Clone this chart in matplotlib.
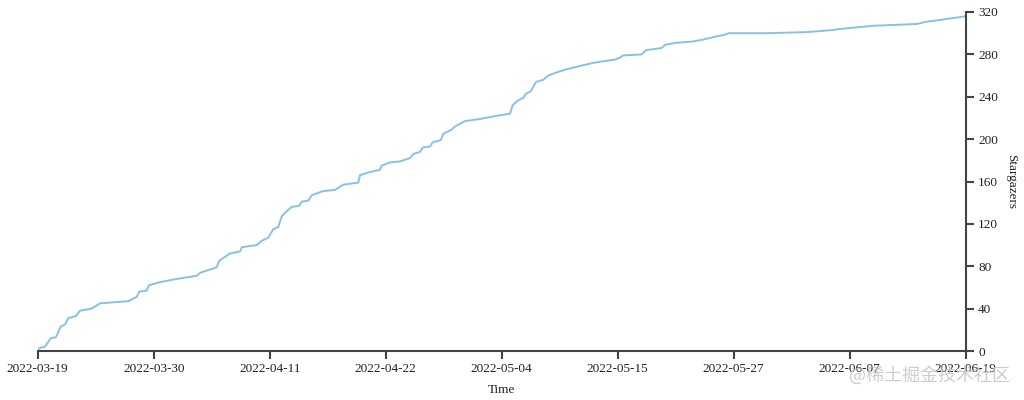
#!/usr/bin/env python
"""Cumulative stargazers over time."""

# Third party modules.
import numpy as np
import pandas as pd
import matplotlib
matplotlib.use("Agg")
import matplotlib.pyplot as plt
import matplotlib.dates as mdates

# Globals and constants variables.
startDate = "2022-03-19"
endDate = "2022-06-19"

# days after startDate
days = [0.00, 0.23, 0.72, 1.29, 1.81, 2.28, 2.71, 3.03, 3.80, 4.19,
        5.35, 6.18, 8.98, 9.81, 10.07, 10.81, 11.03, 12.12, 13.78, 15.76,
        16.16, 17.75, 17.97, 19.06, 20.06, 20.25, 21.71, 22.21, 22.86, 23.36,
        23.85, 24.19, 24.69, 25.18, 25.93, 26.17, 26.83, 27.16, 28.31, 29.47,
        30.30, 31.78, 31.95, 32.94, 33.94, 34.10, 34.93, 35.92, 36.91, 37.24,
        37.90, 38.17, 38.89, 39.16, 39.95, 40.21, 41.04, 41.37, 42.36, 43.85,
        45.50, 46.82, 47.09, 47.55, 48.14, 48.41, 48.88, 49.40, 50.12, 50.62,
        51.45, 52.44, 53.76, 55.08, 56.41, 57.23, 57.73, 58.05, 59.88, 60.30,
        61.86, 62.19, 63.35, 64.84, 65.99, 67.31, 68.31, 68.47, 72.27, 76.24,
        78.87, 79.54, 81.20, 82.86, 87.17, 87.99, 89.82, 92.00]
stargazers = [1, 3, 4, 12, 13, 23, 25, 31, 33, 38,
              40, 45, 47, 51, 56, 57, 62, 65, 68, 71,
              74, 79, 85, 92, 94, 98, 100, 104, 107, 115,
              117, 127, 132, 136, 137, 141, 142, 147, 151, 152,
              157, 159, 166, 169, 171, 175, 178, 179, 182, 186,
              188, 192, 193, 197, 199, 205, 209, 212, 217, 219,
              222, 224, 232, 236, 239, 243, 245, 254, 256, 260,
              263, 266, 269, 272, 274, 275, 277, 279, 280, 284,
              286, 289, 291, 292, 294, 297, 299, 300, 300, 301,
              303, 304, 305.5, 307, 308.7, 310.6, 313, 316]

yTicks = [0, 40, 80, 120, 160, 200, 240, 280, 320]
tickStep_days = 11.5

axisColor = "#444444"
lineColor = "#86c1e6"


def runPlot():
    plt.rcParams["font.family"] = ["Liberation Serif", "DejaVu Serif"]

    start = pd.Timestamp(startDate)
    times = [start + pd.Timedelta(days=d) for d in days]

    fig = plt.figure(figsize=(10.24, 4.0), dpi=100)
    ax = fig.add_axes([0.0368, 0.1225, 0.9063, 0.8475])

    ax.plot(times, stargazers, color=lineColor, linewidth=1.4)

    ax.set_xlim(start, pd.Timestamp(endDate))
    ax.set_ylim(0, 320)

    startNum = mdates.date2num(start)
    ax.set_xticks(startNum + np.arange(9)*tickStep_days)
    ax.xaxis.set_major_formatter(mdates.DateFormatter("%Y-%m-%d"))
    ax.set_yticks(yTicks)

    ax.yaxis.tick_right()
    ax.yaxis.set_label_position("right")
    for side in ["top", "left"]:
        ax.spines[side].set_visible(False)
    for side in ["bottom", "right"]:
        ax.spines[side].set_color(axisColor)
        ax.spines[side].set_linewidth(1.5)

    ax.tick_params(axis="both", direction="out", length=6, width=1.5,
                   color=axisColor, labelsize=9.5, labelcolor="#222222", pad=3)

    ax.set_xlabel("Time", fontsize=9.5, color="#222222", labelpad=6)
    ax.set_ylabel("Stargazers", fontsize=9.5, color="#222222", rotation=270,
                  va="bottom", labelpad=5)

    fig.text(0.986, 0.062, "@稀土掘金技术社区", ha="right", va="center",
             fontsize=13, color="#c4c4c4", alpha=0.85,
             family=["Noto Sans CJK SC", "DejaVu Sans"], zorder=10)

    fig.savefig("out.png", dpi=100)


if __name__ == '__main__':
    runPlot()
